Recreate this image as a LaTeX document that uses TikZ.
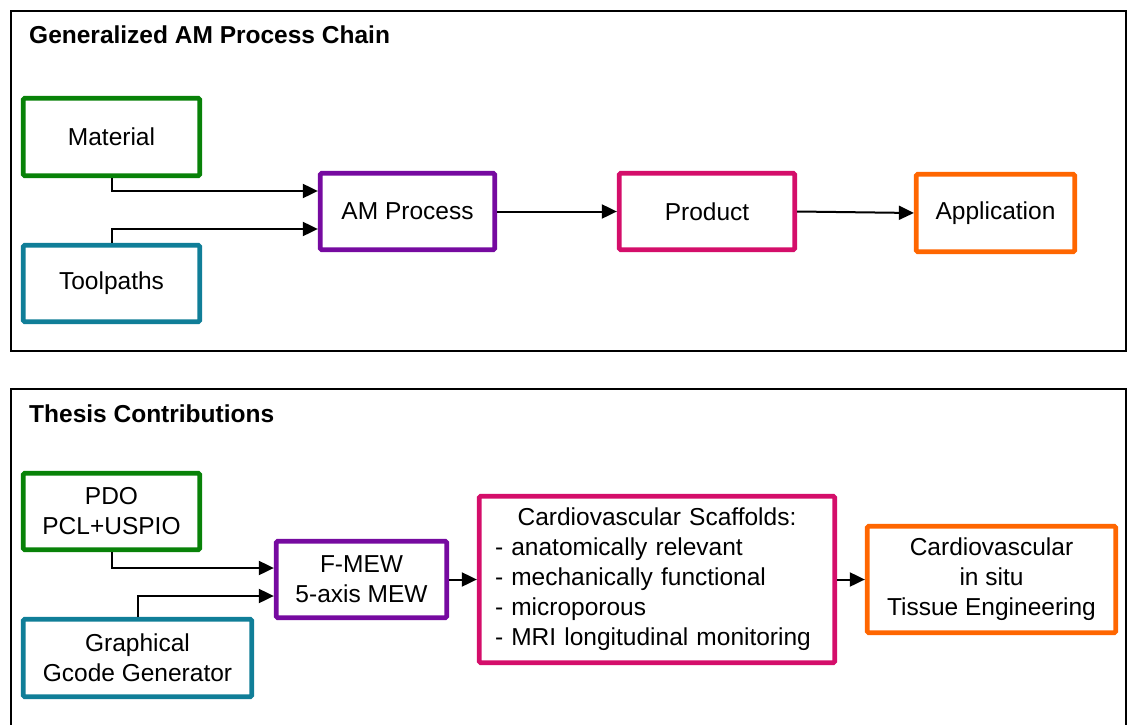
\documentclass[tikz,border=0pt]{standalone}
\usepackage{fontspec}
\setmainfont{Liberation Sans}
\usetikzlibrary{arrows.meta}
\definecolor{cgreen}{RGB}{8,130,8}
\definecolor{cteal}{RGB}{16,126,152}
\definecolor{cpurple}{RGB}{118,10,160}
\definecolor{cmagenta}{RGB}{212,14,106}
\definecolor{corange}{RGB}{255,102,0}
\begin{document}
\begin{tikzpicture}[x=1pt,y=-1pt,
  box/.style={draw, line width=4.8pt, rounded corners=1.5pt, align=center, inner sep=0pt, font=\fontsize{24.5}{30}\selectfont},
  arr/.style={draw=black, line width=2pt, -{Triangle[length=15pt,width=14pt]}},
  panel/.style={draw=black, line width=1.7pt},
  ttl/.style={anchor=base west, font=\bfseries\fontsize{24.5}{30}\selectfont, inner sep=0pt}]
\useasboundingbox (0,0) rectangle (1127,725);
\clip (0,0) rectangle (1127,725);
\fill[white] (0,0) rectangle (1127,725);
% panels
\draw[panel] (11,11) rectangle (1126,351);
\draw[panel] (11,745) -- (11,389) -- (1126,389) -- (1126,745);
\node[ttl] (t1) at (29,44) {Generalized AM Process Chain};
\node[ttl] (t2) at (29,422) {Thesis Contributions};
% top row
\node[box, draw=cgreen, minimum width=176.5pt, minimum height=77.5pt] (mat) at (111.5,137) {Material};
\node[box, draw=cteal, minimum width=176.5pt, minimum height=76.5pt] (tool) at (111.5,283.5) {Toolpaths};
\node[box, draw=cpurple, minimum width=174.5pt, minimum height=76.5pt] (am) at (407.5,211.5) {AM Process};
\node[box, draw=cmagenta, minimum width=175.5pt, minimum height=76.5pt] (prod) at (707,211.5) {Product};
\node[box, draw=corange, minimum width=158.5pt, minimum height=77.5pt] (app) at (995.5,213) {Application};
\coordinate (ym) at (0,191);
\coordinate (yt) at (0,229);
\draw[arr] (mat.south) |- (am.west |- ym);
\draw[arr] (tool.north) |- (am.west |- yt);
\draw[arr] (am.east) -- (prod.west);
\draw[arr] (prod.east) -- (app.west);
% bottom row
\node[box, draw=cgreen, minimum width=176.5pt, minimum height=76.5pt] (pdo) at (111.5,511.5) {PDO\\PCL+USPIO};
\node[box, draw=cteal, minimum width=228.5pt, minimum height=77.5pt] (gr) at (137.5,658) {Graphical\\Gcode Generator};
\node[box, draw=cpurple, minimum width=170.5pt, minimum height=76.5pt] (few) at (361.5,579.5) {F-MEW\\5-axis MEW};
\node[box, draw=cmagenta, minimum width=355.5pt, minimum height=166.5pt, text width=324pt, align=left] (scaf) at (657,579.5)
  {\makebox[324pt][c]{Cardiovascular Scaffolds:}\\- anatomically relevant\\- mechanically functional\\- microporous\\- MRI longitudinal monitoring};
\node[box, draw=corange, minimum width=248.5pt, minimum height=106.5pt] (cardio) at (991.5,579.5) {Cardiovascular\\in situ\\Tissue Engineering};
\coordinate (yp) at (0,568);
\coordinate (yg) at (0,596);
\draw[arr] (pdo.south) |- (few.west |- yp);
\draw[arr] (gr.north) |- (few.west |- yg);
\draw[arr] (few.east) -- (scaf.west);
\draw[arr] (scaf.east) -- (cardio.west);
\end{tikzpicture}
\end{document}
